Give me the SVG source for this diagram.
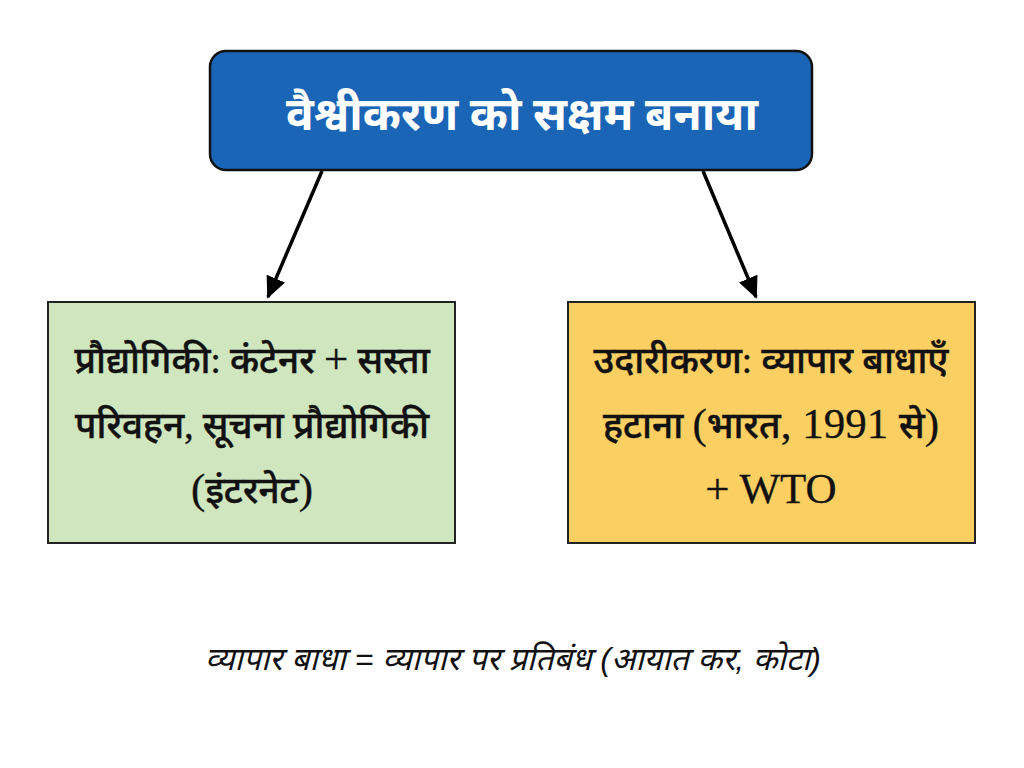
<svg xmlns="http://www.w3.org/2000/svg" width="1024" height="768" viewBox="0 0 1024 768">
<defs>
<style>
.t{font-family:"Liberation Serif","Noto Sans Devanagari","Noto Serif Devanagari","Noto Sans",serif;text-anchor:middle;fill:#111}
.b{font-size:37px;font-weight:500;stroke:#111;stroke-width:0.5px}
.L{font-size:43px;stroke-width:0.3px}
.h{font-size:46px;font-weight:bold;fill:#fff}
.f{font-family:"Liberation Sans","Noto Sans Devanagari","Noto Sans",sans-serif;font-style:italic;font-size:32px;text-anchor:middle;fill:#111}
</style>
<marker id="ah" viewBox="0 0 22 20" refX="20" refY="10" markerWidth="22" markerHeight="20" markerUnits="userSpaceOnUse" orient="auto">
<path d="M0,0 L22,10 L0,20 z" fill="#000"/>
</marker>
</defs>
<rect width="1024" height="768" fill="#fff"/>
<g id="connectors">
<line x1="322" y1="171" x2="268" y2="297" stroke="#000" stroke-width="3.5" marker-end="url(#ah)"/>
<line x1="703" y1="171" x2="756" y2="297" stroke="#000" stroke-width="3.5" marker-end="url(#ah)"/>
</g>
<g id="top">
<rect x="210" y="51" width="602" height="119" rx="16" fill="#1b65b7" stroke="#111" stroke-width="2.5"/>
<text class="t h" x="522" y="130">वैश्वीकरण को सक्षम बनाया</text>
</g>
<g id="tech">
<rect x="48" y="302" width="407" height="241" fill="#cfe6bf" stroke="#222" stroke-width="2"/>
<text class="t b" x="252" y="373">प्रौद्योगिकी: कंटेनर <tspan class="L">+</tspan> सस्ता</text>
<text class="t b" x="252" y="438">परिवहन, सूचना प्रौद्योगिकी</text>
<text class="t b" x="252" y="503"><tspan class="L">(</tspan>इंटरनेट<tspan class="L">)</tspan></text>
</g>
<g id="lib">
<rect x="568" y="302" width="407" height="241" fill="#fbcf62" stroke="#222" stroke-width="2"/>
<text class="t b" x="771" y="373">उदारीकरण: व्यापार बाधाएँ</text>
<text class="t b" x="771" y="438">हटाना <tspan class="L">(</tspan>भारत<tspan class="L">, 1991 </tspan>से<tspan class="L">)</tspan></text>
<text class="t b" x="771" y="503"><tspan class="L">+ WTO</tspan></text>
</g>
<g id="note">
<text class="f" x="513" y="670">व्यापार बाधा = व्यापार पर प्रतिबंध (आयात कर, कोटा)</text>
</g>
</svg>
